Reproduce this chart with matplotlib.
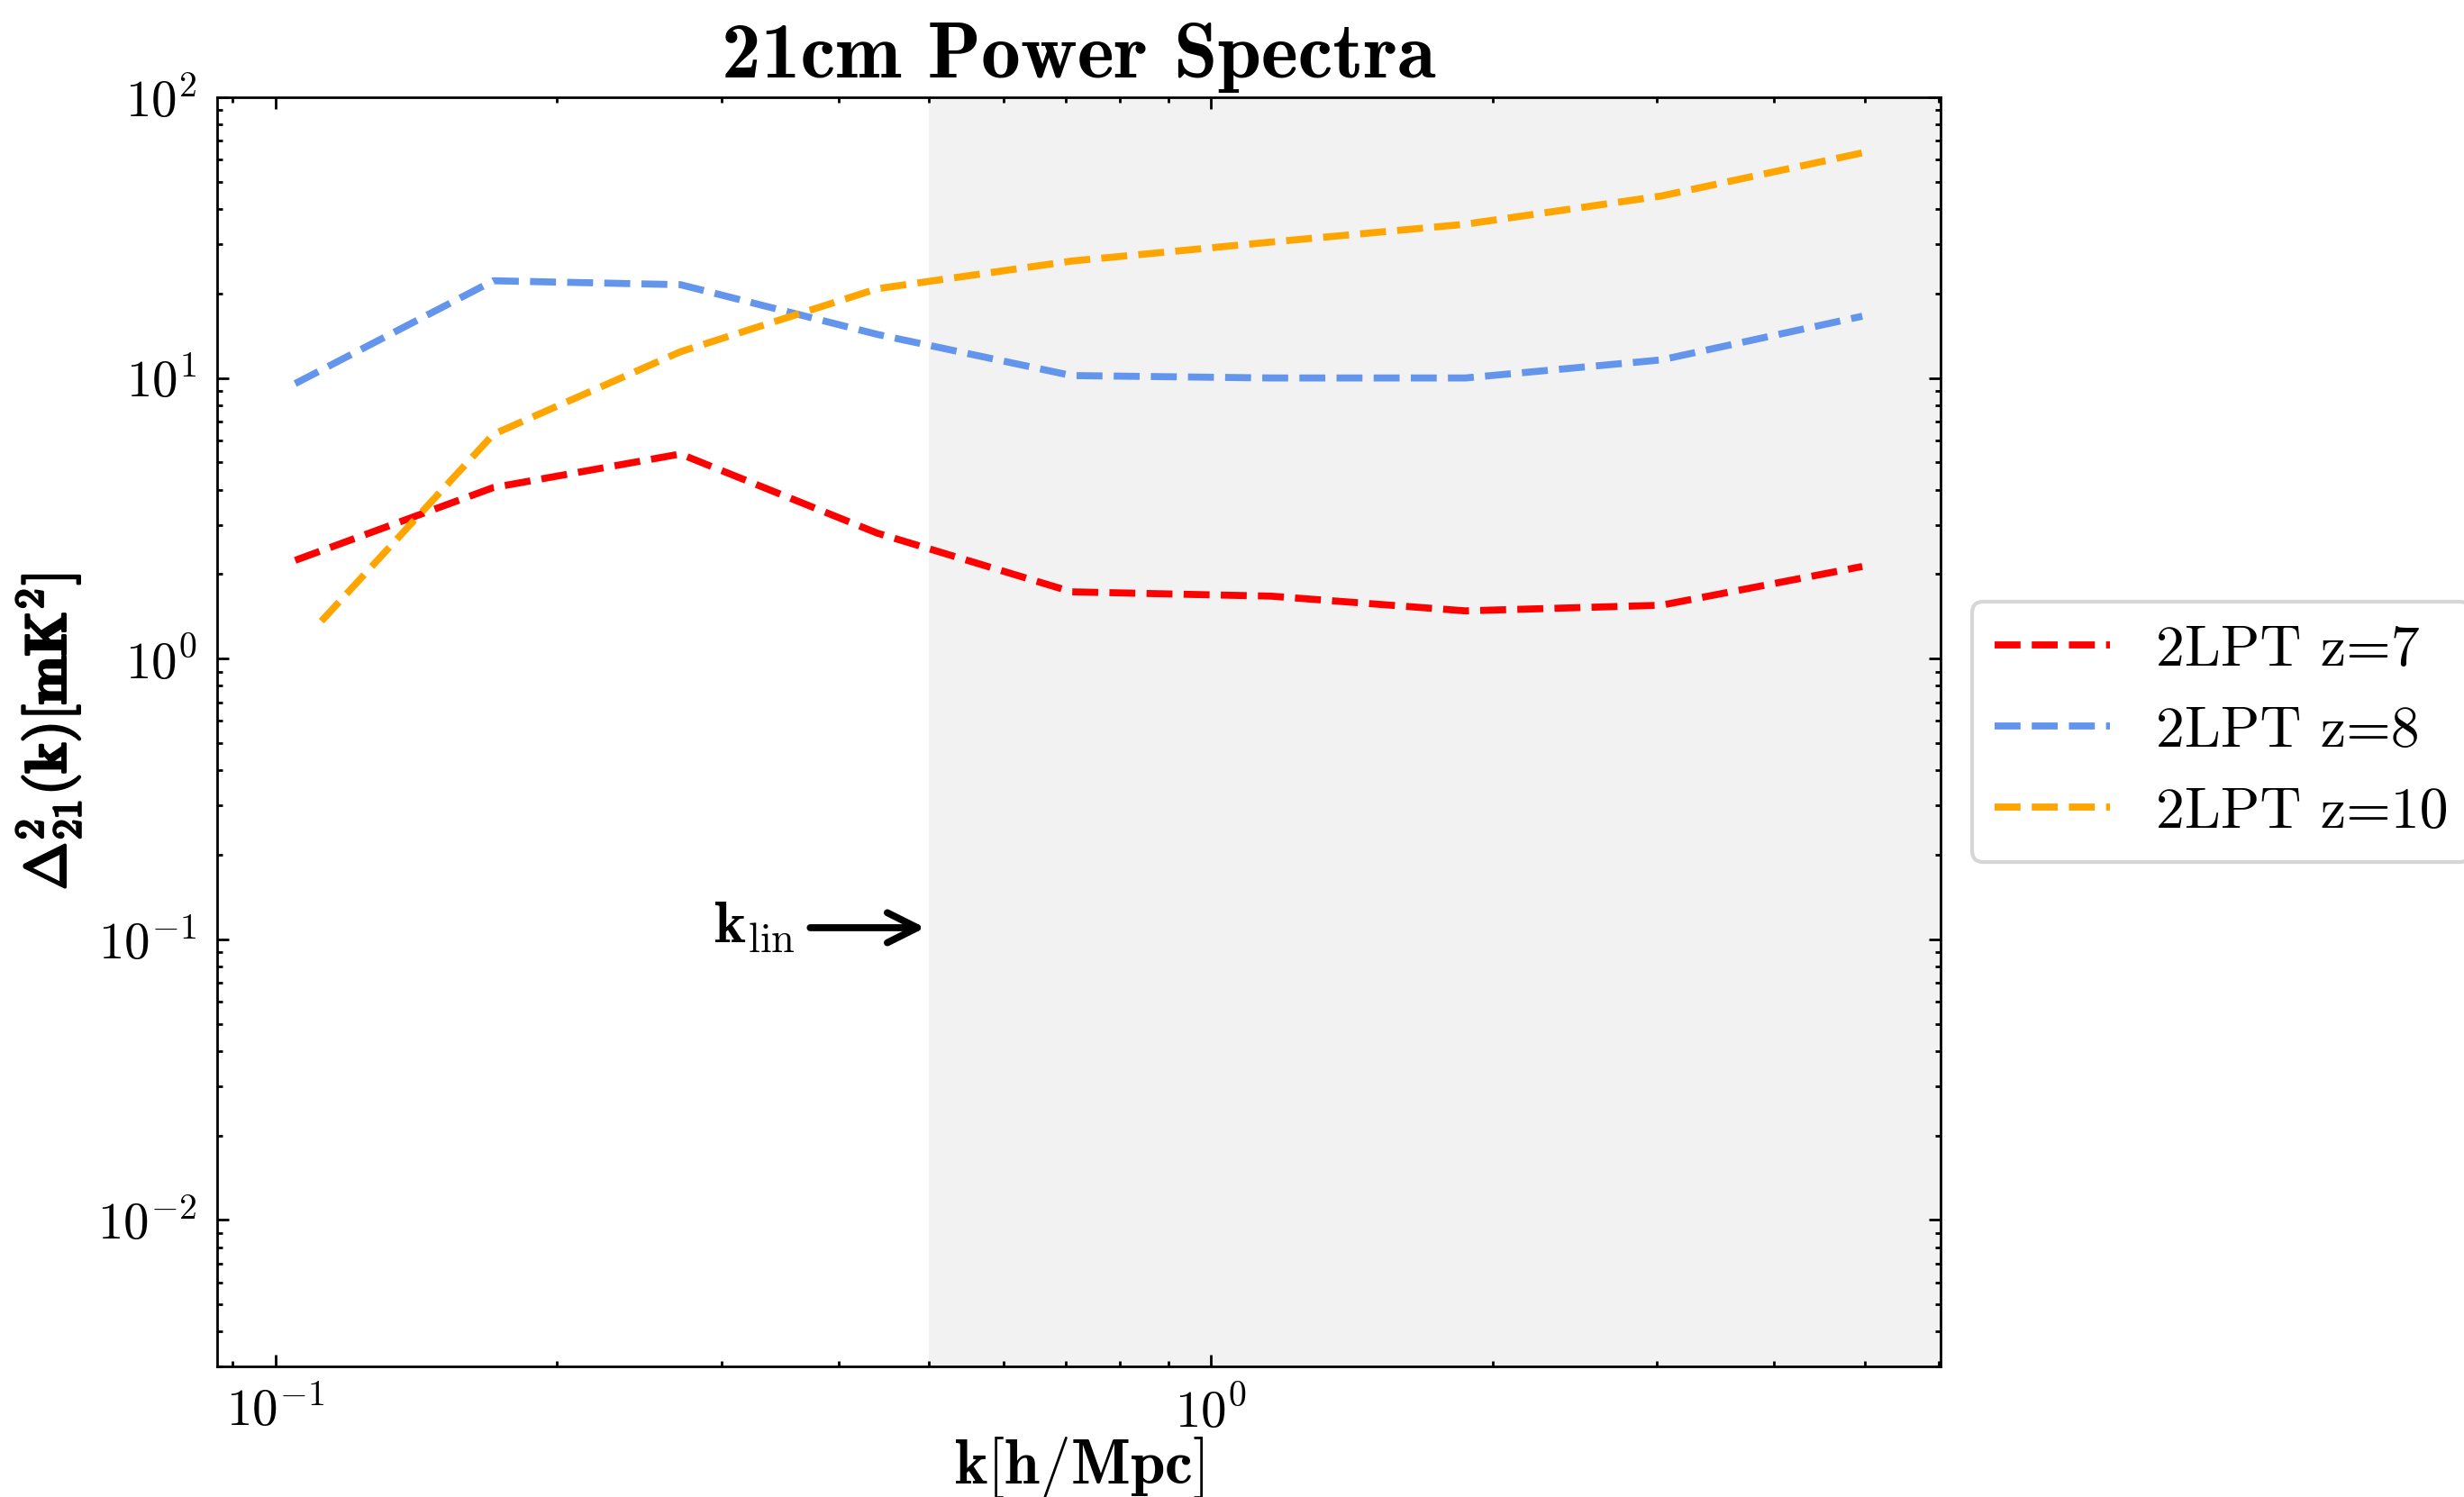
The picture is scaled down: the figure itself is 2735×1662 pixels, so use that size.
import numpy as np
import matplotlib
matplotlib.use('Agg')
import matplotlib.pyplot as plt
import matplotlib.patheffects as pe

# ── Fonts: Computer Modern look ────────────────────────────────────────────────
plt.rcParams['font.family'] = 'serif'
plt.rcParams['font.serif'] = ['cmr10']
plt.rcParams['mathtext.fontset'] = 'cm'
plt.rcParams['axes.formatter.use_mathtext'] = True
plt.rcParams['axes.unicode_minus'] = True

# ── Data ──────────────────────────────────────────────────────────────────────
k_bins = [0.105, 0.171, 0.271, 0.440, 0.710, 1.16, 1.87, 3.03, 4.97]
k_bins_z10 = [0.112, 0.171, 0.271, 0.440, 0.710, 1.16, 1.87, 3.03, 4.97]

ps_z7 = [2.24, 4.07, 5.36, 2.80, 1.73, 1.67, 1.48, 1.55, 2.13]
ps_z8 = [9.55, 22.2, 21.5, 14.3, 10.2, 10.0, 10.0, 11.6, 16.6]
ps_z10 = [1.36, 6.3, 12.4, 20.8, 26.1, 30.5, 35.3, 44.5, 63.4]

labels = ['2LPT z=7', '2LPT z=8', '2LPT z=10']
k_lin = 0.5

fig = plt.figure(figsize=(13.675, 8.31), dpi=200)
ax = fig.add_axes([0.088, 0.087, 0.6996, 0.848])

lw = 2.8
ax.plot(k_bins, ps_z7, '--', color='red', lw=lw, label=labels[0])
ax.plot(k_bins, ps_z8, '--', color='cornflowerblue', lw=lw, label=labels[1])
ax.plot(k_bins_z10, ps_z10, '--', color='orange', lw=lw, label=labels[2])

ax.set_xscale('log')
ax.set_yscale('log')
ax.set_ylim(3e-3, 1e2)

# shade the non-linear region
xlo, xhi = ax.get_xlim()
ax.axvspan(k_lin, xhi * 3, color='gray', alpha=0.1, lw=0, zorder=0)
ax.set_xlim(xlo, xhi)

ax.annotate(r'$\mathbf{k}_{\rm lin}$', xy=(0.495, 0.11), xytext=(0.325, 0.11),
            fontsize=24, ha='center', va='center',
            arrowprops=dict(arrowstyle='->', lw=2.8, color='black',
                            mutation_scale=30, shrinkA=4, shrinkB=0))

ax.tick_params(which='both', direction='in', top=True, right=True,
               labelsize=20.5, width=1.0)
ax.tick_params(which='major', length=4.6, pad=8)
ax.tick_params(which='minor', length=2.3)
for s in ax.spines.values():
    s.set_linewidth(1.0)

ax.set_title('21cm Power Spectra', fontname='cmb10', fontsize=31.5, pad=8)
ax.set_xlabel(r'$\mathbf{k[h/Mpc]}$', fontsize=25, labelpad=-1)
ylab = ax.set_ylabel(r'$\mathbf{\Delta^2_{21}(k)[mK^2]}$', fontsize=23, labelpad=6)
ylab.set_path_effects([pe.Stroke(linewidth=1.0, foreground='black'), pe.Normal()])

leg = ax.legend(loc='center left', bbox_to_anchor=(1.018, 0.5), fontsize=23,
                handlelength=2.0, borderpad=0.4, labelspacing=0.5,
                borderaxespad=0)
leg.get_frame().set_linewidth(1.5)

fig.savefig('out.png', dpi=200)
